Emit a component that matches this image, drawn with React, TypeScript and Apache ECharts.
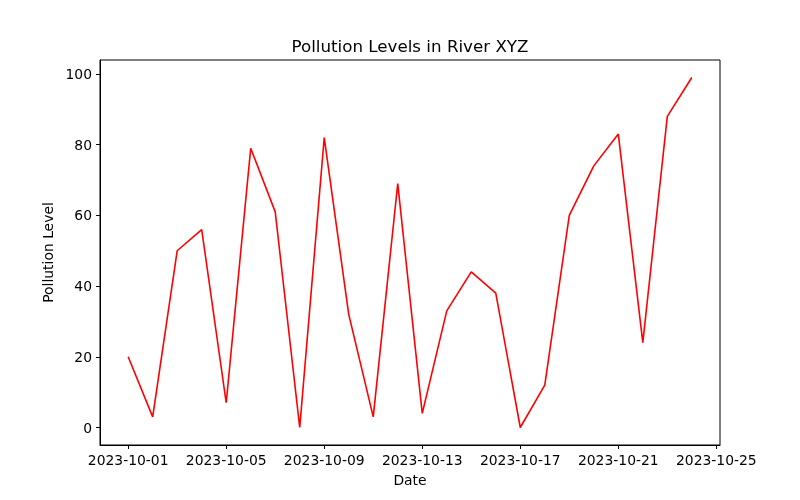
import React, { useEffect, useRef } from "react";
import * as echarts from "echarts";

const dates = [
  "2023-10-01","2023-10-02","2023-10-03","2023-10-04","2023-10-05","2023-10-06",
  "2023-10-07","2023-10-08","2023-10-09","2023-10-10","2023-10-11","2023-10-12",
  "2023-10-13","2023-10-14","2023-10-15","2023-10-16","2023-10-17","2023-10-18",
  "2023-10-19","2023-10-20","2023-10-21","2023-10-22","2023-10-23","2023-10-24",
];
const pollution = [20, 3, 50, 56, 7, 79, 61, 0, 82, 32, 3, 69, 4, 33, 44, 38, 0, 12, 60, 74, 83, 24, 88, 99];
const xTickDates = ["2023-10-01", "2023-10-05", "2023-10-09", "2023-10-13", "2023-10-17", "2023-10-21", "2023-10-25"];
const yTicks = [0, 20, 40, 60, 80, 100];

const DAY = 86400000;
const base = Date.parse("2023-10-01T00:00:00Z");
const dayIndex = (d: string) => Math.round((Date.parse(d + "T00:00:00Z") - base) / DAY);
const dayLabel = (i: number) => new Date(base + i * DAY).toISOString().slice(0, 10);

export default function App() {
  const ref = useRef<HTMLDivElement>(null);
  useEffect(() => {
    if (!ref.current) return;
    const chart = echarts.init(ref.current, null, { renderer: "svg" });
    const font = "DejaVu Sans";
    const n = dates.length - 1;
    const xm = n * 0.05;
    const ymin = Math.min(...pollution), ymax = Math.max(...pollution);
    const ym = (ymax - ymin) * 0.05;
    chart.setOption({
      animation: false,
      textStyle: { fontFamily: font },
      grid: { left: 100, right: 80, top: 60, bottom: 55, show: true, borderColor: "#000", borderWidth: 1, backgroundColor: "transparent" },
      graphic: [
        { type: "text", x: 410, y: 46, style: { text: "Pollution Levels in River XYZ", fontFamily: font, fontSize: 16.7, fill: "#000", textAlign: "center", textVerticalAlign: "middle" } },
      ],
      xAxis: {
        type: "value",
        min: -xm,
        max: n + xm,
        name: "Date",
        nameLocation: "middle",
        nameGap: 28,
        nameTextStyle: { fontFamily: font, fontSize: 13.9, color: "#000" },
        splitLine: { show: false },
        axisLine: { show: true, onZero: false, lineStyle: { color: "#000", width: 1 } },
        axisTick: { show: true, length: 4, customValues: xTickDates.map(dayIndex), lineStyle: { color: "#000" } },
        axisLabel: {
          customValues: xTickDates.map(dayIndex),
          formatter: (v: number) => dayLabel(v),
          margin: 8,
          fontFamily: font, fontSize: 13.9, color: "#000",
        },
      },
      yAxis: {
        type: "value",
        min: ymin - ym,
        max: ymax + ym,
        name: "Pollution Level",
        nameLocation: "middle",
        nameGap: 43,
        nameTextStyle: { fontFamily: font, fontSize: 13.9, color: "#000" },
        splitLine: { show: false },
        axisLine: { show: true, onZero: false, lineStyle: { color: "#000", width: 1 } },
        axisTick: { show: true, length: 4, customValues: yTicks, lineStyle: { color: "#000" } },
        axisLabel: { customValues: yTicks, margin: 8, fontFamily: font, fontSize: 13.9, color: "#000" },
      },
      series: [
        {
          type: "line",
          data: dates.map((d, i) => [dayIndex(d), pollution[i]]),
          showSymbol: false,
          lineStyle: { color: "#ff0000", width: 1.6 },
          itemStyle: { color: "#ff0000" },
        },
      ],
    });
    return () => chart.dispose();
  }, []);
  return <div ref={ref} style={{ position: "fixed", left: 0, top: 0, width: 800, height: 500 }} />;
}
